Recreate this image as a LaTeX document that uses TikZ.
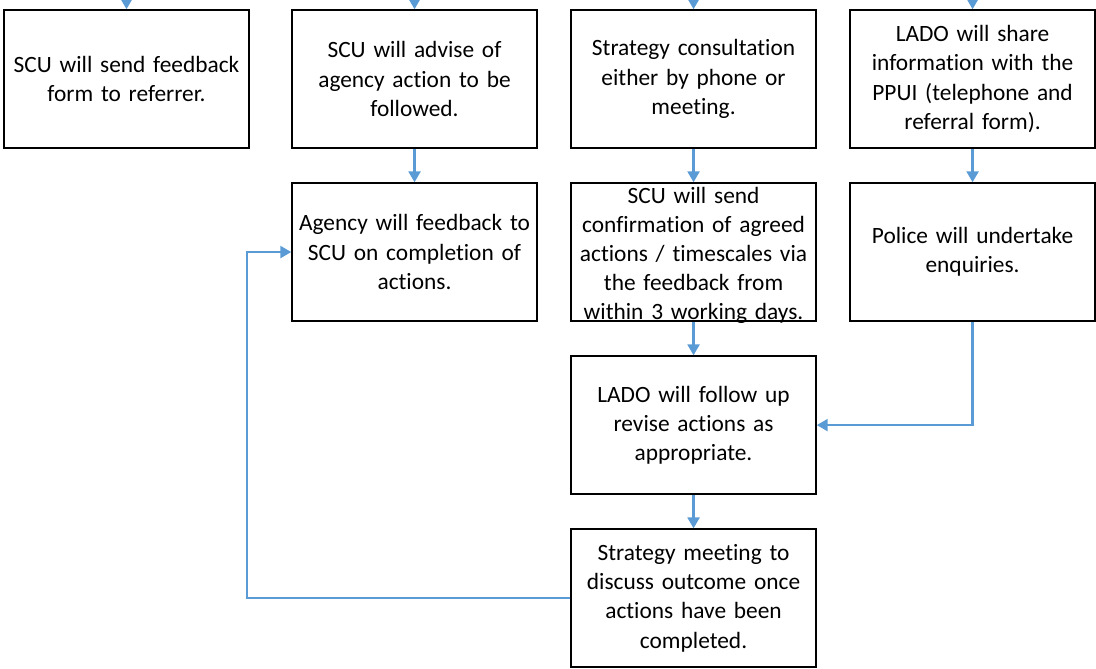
\documentclass[tikz,border=0pt]{standalone}
\usepackage{fontspec}
\setmainfont{Carlito}[Ligatures=NoCommon]
\usetikzlibrary{positioning,arrows.meta}
\definecolor{flowblue}{RGB}{91,155,213}

\begin{document}
\begin{tikzpicture}[x=0.02cm,y=-0.02cm,
	box/.style={draw,line width=0.9pt,minimum width=4.9cm,minimum height=2.76cm,
		text width=4.85cm,align=center,inner xsep=0pt,inner ysep=0pt,
		font=\fontsize{13.3}{16.6}\selectfont},
	link/.style={draw=flowblue,line width=1.3pt,-{Triangle[length=6.2pt,width=6.8pt]}},
	node distance=0.67cm and 0.65cm]
	\useasboundingbox (0,0) rectangle (1096,669);
	\coordinate (top) at (0,0);
	% first row
	\node[box] (a) at (126.5,79) {SCU will send feedback\\form to referrer.};
	\node[box,right=0.83cm of a] (b) {SCU will advise of\\agency action to be\\followed.};
	\node[box,right=of b] (c) {Strategy consultation\\either by phone or\\meeting.};
	\node[box,right=of c] (d) {LADO will share\\information with the\\PPUI (telephone and\\referral form).};
	% second row
	\node[box,below=of b] (e) {Agency will feedback to\\SCU on completion of\\actions.};
	\node[box,text depth=65pt,below=of c] (f) {SCU will send\\confirmation of agreed\\actions / timescales via\\the feedback from\\within 3 working days.};
	\node[box,below=of d] (g) {Police will undertake\\enquiries.};
	% lower boxes
	\node[box,below=of f] (h) {LADO will follow up\\revise actions as\\appropriate.};
	\node[box,below=of h] (i) {Strategy meeting to\\discuss outcome once\\actions have been\\completed.};

	\foreach \n in {a,b,c,d}
		\draw[link] (\n.north |- top) -- (\n);
	\draw[link] (b) -- (e);
	\draw[link] (c) -- (f);
	\draw[link] (d) -- (g);
	\draw[link] (f) -- (h);
	\draw[link] (h) -- (i);
	\draw[link] (g) |- (h);
	\draw[link] (i.west) -- ++(-323,0) |- (e);
\end{tikzpicture}
\end{document}
